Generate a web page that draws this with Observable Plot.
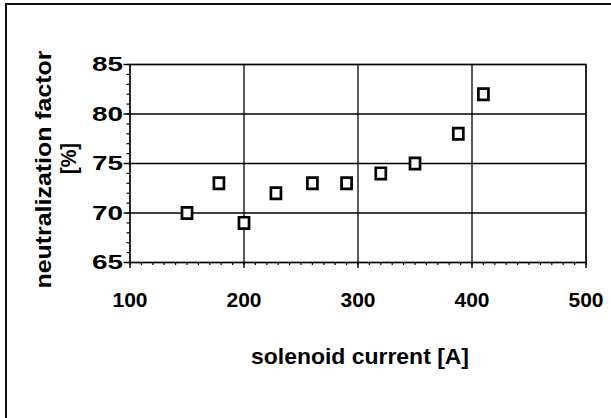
<!DOCTYPE html>
<html>
<head>
<meta charset="utf-8">
<script src="https://cdn.jsdelivr.net/npm/d3@7"></script>
<script src="https://cdn.jsdelivr.net/npm/@observablehq/plot@0.6"></script>
<style>
  html, body { margin: 0; padding: 0; background: white; }
  #wrap { position: relative; width: 611px; height: 418px; overflow: hidden; }
  #border { position: absolute; left: 5px; top: 3px; width: 620px; height: 430px;
            border-top: 2px solid #111; border-left: 2px solid #111; box-sizing: border-box; }
</style>
</head>
<body>
<div id="wrap"><div id="border"></div></div>
<script>
// Data
const currents = [150, 178, 200, 228, 260, 290, 320, 350, 388, 410];
const factors  = [70, 73, 69, 72, 73, 73, 74, 75, 78, 82];
const xTicks = [100, 200, 300, 400, 500];
const yTicks = [65, 70, 75, 80, 85];
const xMinorTicks = d3.range(100, 501, 10);
const yMinorTicks = d3.range(65, 86, 1);
const xTitle = "solenoid current [A]";
const yTitle1 = "neutralization factor";
const yTitle2 = "[%]";

const points = currents.map((c, i) => ({current: c, factor: factors[i]}));

// slightly tall square marker, like the reference
const tallSquare = {
  draw(context, size) {
    const w = Math.sqrt(size / 1.12), h = w * 1.12;
    context.rect(-w / 2, -h / 2, w, h);
  }
};

const chart = Plot.plot({
  width: 611,
  height: 418,
  marginLeft: 129.5,
  marginRight: 25.5,
  marginTop: 64,
  marginBottom: 156,
  style: {fontFamily: "'Liberation Sans', Arial, sans-serif", fontSize: "21px", color: "black", background: "transparent", overflow: "visible"},
  x: {domain: [100, 500]},
  y: {domain: [65, 85]},
  marks: [
    Plot.gridX({ticks: xTicks.slice(1, -1), stroke: "black", strokeOpacity: 1, strokeWidth: 1.3}),
    Plot.gridY({ticks: yTicks.slice(1, -1), stroke: "black", strokeOpacity: 1, strokeWidth: 1.3}),
    Plot.frame({stroke: "black", strokeWidth: 1.7}),
    Plot.axisX({ticks: xMinorTicks, tickSize: 3, tickFormat: () => "", label: null, strokeWidth: 1.2}),
    Plot.axisY({ticks: yMinorTicks, tickSize: 3, tickFormat: () => "", label: null, strokeWidth: 1.2}),
    Plot.axisX({ticks: xTicks, tickSize: 6, tickPadding: 24, label: null, strokeWidth: 1.4, fontSize: 21, fontWeight: "bold", letterSpacing: "-0.5px"}),
    Plot.axisY({ticks: yTicks, tickSize: 6, tickPadding: 1, label: null, strokeWidth: 1.4, fontSize: 21, fontWeight: "bold", letterSpacing: "-0.5px"}),
    Plot.dot(points, {x: "current", y: "factor", symbol: tallSquare, r: 6, stroke: "black", strokeWidth: 2.7, fill: "white"}),
    Plot.text([xTitle], {frameAnchor: "bottom", textAnchor: "middle", lineAnchor: "bottom", dx: 2, dy: 101, fontSize: 22, fontWeight: "bold", fill: "black"}),
    Plot.text([yTitle1], {frameAnchor: "left", textAnchor: "middle", lineAnchor: "bottom", rotate: -90, dx: -79.5, dy: 6, fontSize: 22, fontWeight: "bold", fill: "black"}),
    Plot.text([yTitle2], {frameAnchor: "left", textAnchor: "middle", lineAnchor: "bottom", rotate: -90, dx: -54.5, dy: -5, fontSize: 22, fontWeight: "bold", fill: "black"})
  ]
});
chart.style.position = "absolute";
chart.style.left = "0px";
chart.style.top = "0px";

// stretch texts to the widths seen in the reference
const lengths = {[xTitle]: 218, [yTitle1]: 238, [yTitle2]: 31};
const yLabelSet = new Set(yTicks.map(String));
d3.select(chart).selectAll("text").each(function () {
  const t = this.textContent;
  if (lengths[t]) {
    d3.select(this).attr("textLength", lengths[t]).attr("lengthAdjust", "spacingAndGlyphs");
  } else if (yLabelSet.has(t) && this.closest('[aria-label="y-axis tick label"]')) {
    d3.select(this).attr("textLength", 31).attr("lengthAdjust", "spacingAndGlyphs");
  }
});
document.getElementById("wrap").appendChild(chart);
</script>
</body>
</html>
